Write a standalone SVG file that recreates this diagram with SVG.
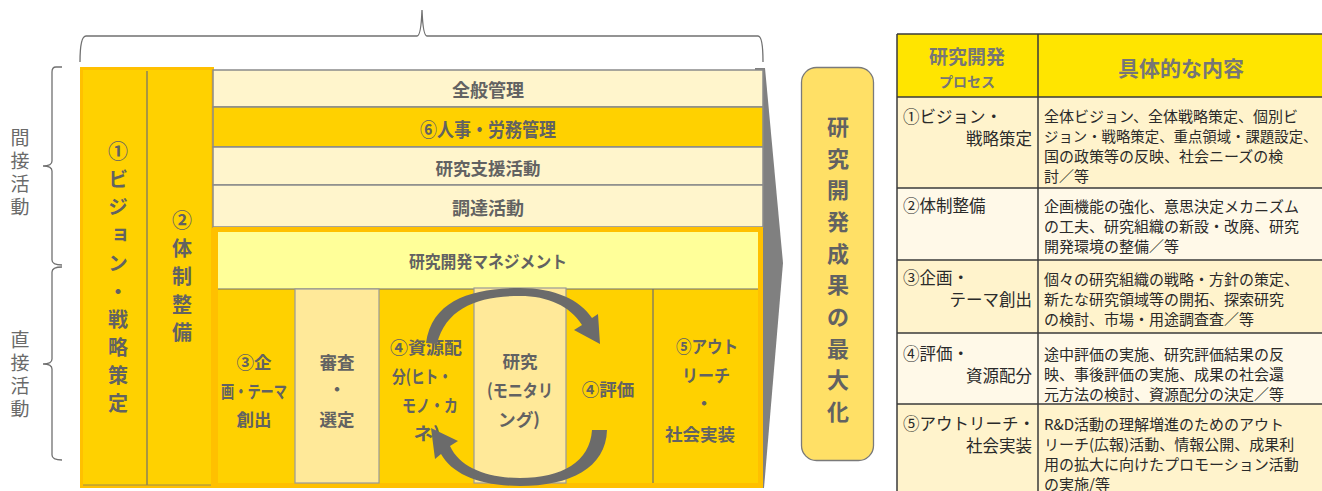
<svg xmlns="http://www.w3.org/2000/svg" width="1322" height="491" viewBox="0 0 1322 491">
<style>
.t{font-family:"Noto Sans CJK JP","Noto Sans",sans-serif;font-weight:bold;fill:#626262;dominant-baseline:central;text-anchor:middle}
.v{font-family:"Noto Sans CJK JP","Noto Sans",sans-serif;font-weight:bold;fill:#626262;font-size:20px;writing-mode:vertical-rl;letter-spacing:8px}
.lbl{font-family:"Noto Sans CJK JP","Noto Sans",sans-serif;fill:#6a6a6a;font-size:19px;writing-mode:vertical-rl;letter-spacing:4px}
.tb{font-family:"Noto Sans CJK JP","Noto Sans",sans-serif;fill:#2a2a2a;font-size:15px;dominant-baseline:central}
.tl{font-family:"Noto Sans CJK JP","Noto Sans",sans-serif;fill:#2a2a2a;font-size:16.5px;dominant-baseline:central}
.th{font-family:"Noto Sans CJK JP","Noto Sans",sans-serif;font-weight:bold;fill:#767676;dominant-baseline:central;text-anchor:middle}
.brace{fill:none;stroke:#707070;stroke-width:1.3}
.gold{fill:#FFD100}
.cream{fill:#FFF5CC;stroke:#8a8a8a;stroke-width:1.5}
.pale{fill:#FFE999;stroke:#999;stroke-width:1.2}
.div{stroke:#6f6f6f;stroke-width:1.2}
</style>

<!-- braces -->
<g id="braces">
<path class="brace" d="M80 62 Q80 36 86 36 L417 36 Q421 36 422 10 Q423 36 427 36 L758 36 Q763 36 763 62"/>
<path class="brace" d="M62 67 L56 67 Q52 67 52 72 L52 161 Q52 166 43 166 Q52 166 52 171 L52 260 Q52 265 62 265"/>
<path class="brace" d="M62 267 Q52 267 52 272 L52 359 Q52 364 43 364 Q52 364 52 369 L52 455 Q52 460 62 460"/>
<text class="lbl" x="20" y="128">間接活動</text>
<text class="lbl" x="20" y="330">直接活動</text>
</g>

<!-- big gray arrow -->
<g id="bigarrow">
<polygon points="755,68 765,68 783,263 764,488 755,488" fill="#808080"/>
</g>

<!-- left block -->
<g id="node-left">
<rect x="81.5" y="68.5" width="131" height="418" class="gold" stroke="#FFC000" stroke-width="3"/>
<line x1="147" y1="71" x2="147" y2="485" class="div"/>
<line x1="83" y1="485" x2="211" y2="485" stroke="#9a8a50" stroke-width="1"/>
<text class="v" x="118" y="141">①ビジョン・戦略策定</text>
<text class="v" x="182" y="210">②体制整備</text>
</g>

<!-- bars -->
<g id="node-bar1"><rect x="213" y="70" width="550" height="37" class="cream"/><text class="t" x="488" y="89" font-size="18">全般管理</text></g>
<g id="node-bar2"><rect x="213" y="107" width="550" height="40" fill="#FFD100" stroke="#8a8a8a" stroke-width="1.5"/><text class="t" x="488" y="128" font-size="19" textLength="136" lengthAdjust="spacingAndGlyphs">⑥人事・労務管理</text></g>
<g id="node-bar3"><rect x="213" y="147" width="550" height="38" class="cream"/><text class="t" x="488" y="167" font-size="17.5">研究支援活動</text></g>
<g id="node-bar4"><rect x="213" y="185" width="550" height="42" class="cream"/><text class="t" x="488" y="207" font-size="18">調達活動</text></g>

<!-- direct block -->
<g id="node-direct">
<rect x="215.5" y="229.5" width="545" height="256" class="gold" stroke="#FFC000" stroke-width="5"/>
<rect x="218" y="232" width="540" height="57" fill="#FFFF99"/>
<line x1="218" y1="289" x2="758" y2="289" class="div"/>
<text class="t" x="488" y="260" font-size="17" textLength="158" lengthAdjust="spacingAndGlyphs">研究開発マネジメント</text>
</g>

<g id="node-c1"><text class="t" font-size="17.5"><tspan x="254" y="361">③企</tspan><tspan x="254" y="390" textLength="66" lengthAdjust="spacingAndGlyphs">画・テーマ</tspan><tspan x="254" y="418">創出</tspan></text></g>
<g id="node-c2"><rect x="295" y="289" width="84" height="194" class="pale"/><text class="t" font-size="17.5"><tspan x="337" y="361">審査</tspan><tspan x="337" y="388">・</tspan><tspan x="337" y="418">選定</tspan></text></g>
<g id="node-c3"><text class="t" font-size="17.5"><tspan x="426" y="346" textLength="72" lengthAdjust="spacingAndGlyphs">④資源配</tspan><tspan x="422" y="375" textLength="60" lengthAdjust="spacingAndGlyphs">分(ヒト・</tspan><tspan x="430" y="404" textLength="56" lengthAdjust="spacingAndGlyphs">モノ・カ</tspan><tspan x="427" y="432" textLength="27" lengthAdjust="spacingAndGlyphs">ネ)</tspan></text></g>
<g id="node-c4"><rect x="474" y="288" width="92" height="195" class="pale"/><text class="t" font-size="17.5"><tspan x="520" y="360">研究</tspan><tspan x="520" y="389" textLength="66" lengthAdjust="spacingAndGlyphs">(モニタリ</tspan><tspan x="519" y="418" textLength="42" lengthAdjust="spacingAndGlyphs">ング)</tspan></text></g>
<g id="node-c5"><text class="t" x="608" y="388" font-size="17.5">④評価</text></g>
<line x1="653" y1="289" x2="653" y2="483" class="div"/>
<g id="node-c6"><text class="t" font-size="17.5"><tspan x="707" y="345" textLength="62" lengthAdjust="spacingAndGlyphs">⑤アウト</tspan><tspan x="706" y="374" textLength="48" lengthAdjust="spacingAndGlyphs">リーチ</tspan><tspan x="704" y="402">・</tspan><tspan x="700" y="433">社会実装</tspan></text></g>

<!-- cycle arrows -->
<g id="connectors" fill="#6b6b6b">
<path d="M426 343 C432 300 472 288 520 288 C555 288 580 300 592 318 L598 314 L600 344 L574 330 L582 325 C570 306 548 296 520 296 C478 296 446 308 437 344 Z"/>
<path d="M607 430 C606 468 570 486 520 486 C480 486 452 474 441 454 L435 459 L431 428 L458 441 L450 446 C460 468 488 478 520 478 C562 478 590 462 592 430 Z"/>
</g>

<!-- result box -->
<g id="node-result">
<rect x="801.5" y="67.5" width="72" height="393" rx="15" fill="#FFE066" stroke="#7a7a7a" stroke-width="1.3"/>
<text class="t" font-size="22"><tspan x="838" y="125">研</tspan><tspan x="838" y="157">究</tspan><tspan x="838" y="188">開</tspan><tspan x="838" y="220">発</tspan><tspan x="838" y="252">成</tspan><tspan x="838" y="283">果</tspan><tspan x="838" y="315">の</tspan><tspan x="838" y="347">最</tspan><tspan x="838" y="378">大</tspan><tspan x="838" y="410">化</tspan></text>
</g>

<!-- table -->
<g id="table">
<rect x="897" y="34" width="440" height="63" fill="#FFE500"/>
<rect x="897" y="97" width="440" height="91" fill="#FFF3CC"/>
<rect x="897" y="188" width="440" height="72" fill="#FFF9E8"/>
<rect x="897" y="260" width="440" height="73" fill="#FFF3CC"/>
<rect x="897" y="333" width="440" height="71" fill="#FFF9E8"/>
<rect x="897" y="404" width="440" height="90" fill="#FFF3CC"/>
<g stroke="#3a3a3a" stroke-width="1.5">
<line x1="897" y1="34" x2="1322" y2="34"/>
<line x1="897" y1="34" x2="897" y2="491"/>
<line x1="1038" y1="34" x2="1038" y2="491"/>
<line x1="897" y1="97" x2="1322" y2="97"/>
<line x1="897" y1="188" x2="1322" y2="188"/>
<line x1="897" y1="260" x2="1322" y2="260"/>
<line x1="897" y1="333" x2="1322" y2="333"/>
<line x1="897" y1="404" x2="1322" y2="404"/>
</g>
<text class="th" x="967" y="55" font-size="19">研究開発</text>
<text class="th" x="967" y="81" font-size="14">プロセス</text>
<text class="th" x="1181" y="67" font-size="21">具体的な内容</text>

<text class="tl" x="903" y="116">①ビジョン・</text>
<text class="tl" x="1032" y="138" text-anchor="end">戦略策定</text>
<text class="tl" x="903" y="205">②体制整備</text>
<text class="tl" x="903" y="277">③企画・</text>
<text class="tl" x="1032" y="299" text-anchor="end">テーマ創出</text>
<text class="tl" x="903" y="353">④評価・</text>
<text class="tl" x="1032" y="375" text-anchor="end">資源配分</text>
<text class="tl" x="903" y="423">⑤アウトリーチ・</text>
<text class="tl" x="1032" y="445" text-anchor="end">社会実装</text>

<text class="tb"><tspan x="1044" y="115">全体ビジョン、全体戦略策定、個別ビ</tspan><tspan x="1044" y="135" font-size="14.4">ジョン・戦略策定、重点領域・課題設定、</tspan><tspan x="1044" y="155">国の政策等の反映、社会ニーズの検</tspan><tspan x="1044" y="175">討／等</tspan></text>
<text class="tb"><tspan x="1044" y="205">企画機能の強化、意思決定メカニズム</tspan><tspan x="1044" y="225">の工夫、研究組織の新設・改廃、研究</tspan><tspan x="1044" y="245">開発環境の整備／等</tspan></text>
<text class="tb"><tspan x="1044" y="278">個々の研究組織の戦略・方針の策定、</tspan><tspan x="1044" y="298">新たな研究領域等の開拓、探索研究</tspan><tspan x="1044" y="318">の検討、市場・用途調査査／等</tspan></text>
<text class="tb"><tspan x="1044" y="353">途中評価の実施、研究評価結果の反</tspan><tspan x="1044" y="373">映、事後評価の実施、成果の社会還</tspan><tspan x="1044" y="393">元方法の検討、資源配分の決定／等</tspan></text>
<text class="tb"><tspan x="1044" y="423">R&amp;D活動の理解増進のためのアウト</tspan><tspan x="1044" y="443">リーチ(広報)活動、情報公開、成果利</tspan><tspan x="1044" y="463">用の拡大に向けたプロモーション活動</tspan><tspan x="1044" y="483">の実施/等</tspan></text>
</g>
</svg>
